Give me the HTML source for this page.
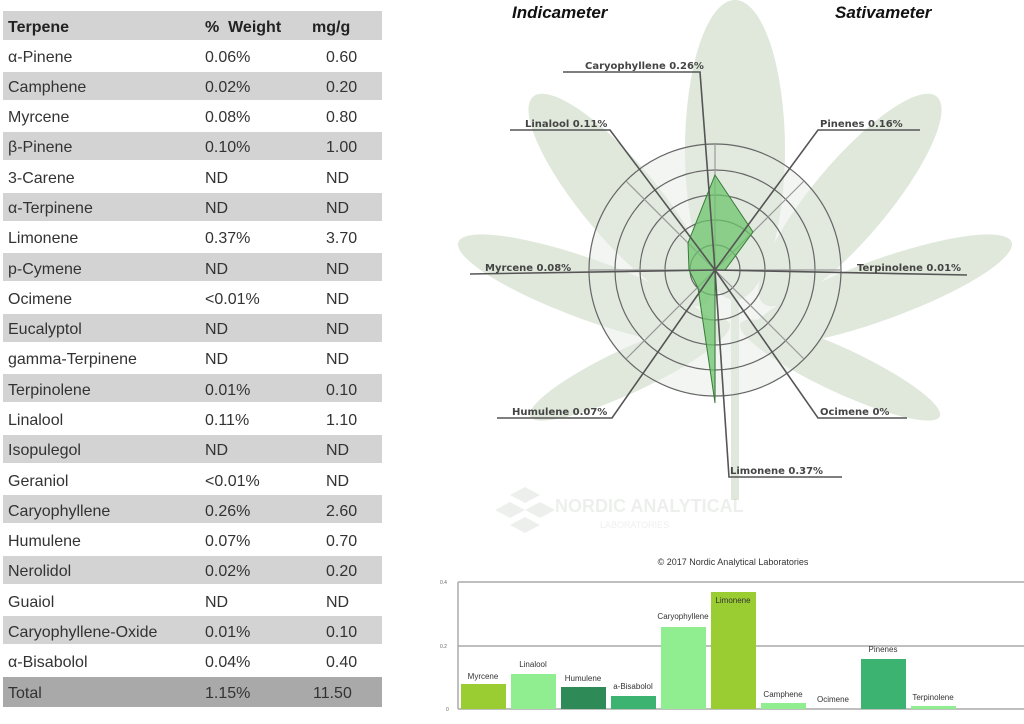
<!DOCTYPE html>
<html><head><meta charset="utf-8"><style>
html,body{margin:0;padding:0;background:#fff;}
svg{display:block;font-family:"Liberation Sans",sans-serif;}
</style></head><body>
<svg width="1024" height="724" viewBox="0 0 1024 724" xmlns="http://www.w3.org/2000/svg">
<!-- table -->
<g font-size="16" fill="#222">
<rect x="3" y="11" width="379" height="29" fill="#d3d3d3"/>
<text x="8" y="32" font-weight="bold">Terpene</text>
<text x="205" y="32" font-weight="bold" xml:space="preserve">%  Weight</text>
<text x="312" y="32" font-weight="bold">mg/g</text>
<g fill="#d3d3d3">
<rect x="3" y="72" width="379" height="28"/>
<rect x="3" y="132" width="379" height="28"/>
<rect x="3" y="193" width="379" height="28"/>
<rect x="3" y="253" width="379" height="28"/>
<rect x="3" y="314" width="379" height="28"/>
<rect x="3" y="374" width="379" height="28"/>
<rect x="3" y="435" width="379" height="28"/>
<rect x="3" y="495" width="379" height="28"/>
<rect x="3" y="556" width="379" height="28"/>
<rect x="3" y="616" width="379" height="28"/>
</g>
<rect x="3" y="677" width="379" height="30" fill="#a9a9a9"/>
<g fill="#333">
<text x="8" y="62">α-Pinene</text><text x="205" y="62">0.06%</text><text x="326" y="62">0.60</text>
<text x="8" y="92">Camphene</text><text x="205" y="92">0.02%</text><text x="326" y="92">0.20</text>
<text x="8" y="122">Myrcene</text><text x="205" y="122">0.08%</text><text x="326" y="122">0.80</text>
<text x="8" y="152">β-Pinene</text><text x="205" y="152">0.10%</text><text x="326" y="152">1.00</text>
<text x="8" y="183">3-Carene</text><text x="205" y="183">ND</text><text x="326" y="183">ND</text>
<text x="8" y="213">α-Terpinene</text><text x="205" y="213">ND</text><text x="326" y="213">ND</text>
<text x="8" y="243">Limonene</text><text x="205" y="243">0.37%</text><text x="326" y="243">3.70</text>
<text x="8" y="274">p-Cymene</text><text x="205" y="274">ND</text><text x="326" y="274">ND</text>
<text x="8" y="304">Ocimene</text><text x="205" y="304">&lt;0.01%</text><text x="326" y="304">ND</text>
<text x="8" y="334">Eucalyptol</text><text x="205" y="334">ND</text><text x="326" y="334">ND</text>
<text x="8" y="364">gamma-Terpinene</text><text x="205" y="364">ND</text><text x="326" y="364">ND</text>
<text x="8" y="395">Terpinolene</text><text x="205" y="395">0.01%</text><text x="326" y="395">0.10</text>
<text x="8" y="425">Linalool</text><text x="205" y="425">0.11%</text><text x="326" y="425">1.10</text>
<text x="8" y="455">Isopulegol</text><text x="205" y="455">ND</text><text x="326" y="455">ND</text>
<text x="8" y="486">Geraniol</text><text x="205" y="486">&lt;0.01%</text><text x="326" y="486">ND</text>
<text x="8" y="516">Caryophyllene</text><text x="205" y="516">0.26%</text><text x="326" y="516">2.60</text>
<text x="8" y="546">Humulene</text><text x="205" y="546">0.07%</text><text x="326" y="546">0.70</text>
<text x="8" y="576">Nerolidol</text><text x="205" y="576">0.02%</text><text x="326" y="576">0.20</text>
<text x="8" y="607">Guaiol</text><text x="205" y="607">ND</text><text x="326" y="607">ND</text>
<text x="8" y="637">Caryophyllene-Oxide</text><text x="205" y="637">0.01%</text><text x="326" y="637">0.10</text>
<text x="8" y="667">α-Bisabolol</text><text x="205" y="667">0.04%</text><text x="326" y="667">0.40</text>
<text x="8" y="698">Total</text><text x="205" y="698">1.15%</text><text x="313" y="698">11.50</text>
</g>
</g>

<!-- leaf background -->
<g fill="#dce6d8" opacity="0.9">
<ellipse cx="735" cy="150" rx="50" ry="150" />
<ellipse cx="620" cy="200" rx="38" ry="135" transform="rotate(-40 620 200)"/>
<ellipse cx="850" cy="200" rx="38" ry="135" transform="rotate(40 850 200)"/>
<ellipse cx="590" cy="290" rx="30" ry="140" transform="rotate(-70 590 290)"/>
<ellipse cx="880" cy="290" rx="30" ry="140" transform="rotate(70 880 290)"/>
<ellipse cx="630" cy="370" rx="22" ry="110" transform="rotate(-115 630 370)"/>
<ellipse cx="840" cy="370" rx="22" ry="110" transform="rotate(115 840 370)"/>
<rect x="731" y="300" width="8" height="200"/>
</g>
<circle cx="715" cy="270" r="126" fill="#e6ece4" opacity="0.5"/>

<!-- titles -->
<text x="512" y="18" font-size="17" font-weight="bold" font-style="italic" fill="#111">Indicameter</text>
<text x="835" y="18" font-size="17" font-weight="bold" font-style="italic" fill="#111">Sativameter</text>

<!-- radar grid -->
<g fill="none" stroke="#666" stroke-width="1.2">
<circle cx="715" cy="270" r="126"/>
<circle cx="715" cy="270" r="100"/>
<circle cx="715" cy="270" r="75"/>
<circle cx="715" cy="270" r="50"/>
<circle cx="715" cy="270" r="25"/>
<line x1="715" y1="144" x2="715" y2="396" stroke="#999"/>
<line x1="589" y1="270" x2="841" y2="270" stroke="#999"/>
<line x1="626" y1="181" x2="804" y2="359" stroke="#999"/>
<line x1="804" y1="181" x2="626" y2="359" stroke="#999"/>
</g>
<polygon points="715,175 753,232 725,270 715,270 715,403 698,288 689,270 688,243" fill="#6cc46c" fill-opacity="0.75" stroke="#3a7a3a" stroke-width="1"/>
<g stroke="#555" stroke-width="1.6" fill="none">
<polyline points="563,72 700,72 715,270"/>
<polyline points="510,130 610,130 715,270"/>
<polyline points="920,130 818,130 715,270"/>
<polyline points="470,274 715,270"/>
<polyline points="967,275 715,270"/>
<polyline points="497,418 612,418 715,270"/>
<polyline points="907,418 818,418 715,270"/>
<polyline points="842,477 729,477 715,270"/>
</g>
<g font-family="'DejaVu Sans',sans-serif" font-size="10" font-weight="bold" fill="#444">
<text x="585" y="69">Caryophyllene 0.26%</text>
<text x="525" y="127">Linalool 0.11%</text>
<text x="820" y="127">Pinenes 0.16%</text>
<text x="485" y="271">Myrcene 0.08%</text>
<text x="857" y="271">Terpinolene 0.01%</text>
<text x="512" y="415">Humulene 0.07%</text>
<text x="820" y="415">Ocimene 0%</text>
<text x="730" y="474">Limonene 0.37%</text>
</g>
<!-- watermark -->
<g opacity="0.2" fill="#a8b4a8">
<polygon points="510,495 525,487 540,495 525,503"/>
<polygon points="495,510 510,502 525,510 510,518"/>
<polygon points="525,510 540,502 555,510 540,518"/>
<polygon points="510,525 525,517 540,525 525,533"/>
<text x="555" y="512" font-size="18" font-weight="bold">NORDIC ANALYTICAL</text>
<text x="600" y="528" font-size="9">LABORATORIES</text>
</g>

<!-- bar chart -->
<text x="733" y="565" font-size="9" fill="#333" text-anchor="middle">© 2017 Nordic Analytical Laboratories</text>
<g stroke="#aaa" stroke-width="1.5">
<line x1="458" y1="582" x2="1024" y2="582"/>
<line x1="458" y1="646" x2="1024" y2="646"/>
<line x1="458" y1="709" x2="1024" y2="709"/>
<line x1="458" y1="582" x2="458" y2="709"/>
</g>
<g font-size="5" fill="#666">
<text x="440" y="584">0.4</text><text x="440" y="648">0.2</text><text x="446" y="711">0</text>
</g>
<g>
<rect x="461" y="684" width="45" height="25" fill="#9acd32"/>
<rect x="511" y="674" width="45" height="35" fill="#90ee90"/>
<rect x="561" y="687" width="45" height="22" fill="#2e8b57"/>
<rect x="611" y="696" width="45" height="13" fill="#3cb371"/>
<rect x="661" y="627" width="45" height="82" fill="#90ee90"/>
<rect x="711" y="592" width="45" height="117" fill="#9acd32"/>
<rect x="761" y="703" width="45" height="6" fill="#90ee90"/>
<rect x="861" y="659" width="45" height="50" fill="#3cb371"/>
<rect x="911" y="706" width="45" height="3" fill="#90ee90"/>
</g>
<g font-size="8" fill="#333" text-anchor="middle">
<text x="483" y="679">Myrcene</text>
<text x="533" y="667">Linalool</text>
<text x="583" y="681">Humulene</text>
<text x="633" y="689">a-Bisabolol</text>
<text x="683" y="619">Caryophyllene</text>
<text x="733" y="603">Limonene</text>
<text x="783" y="697">Camphene</text>
<text x="833" y="702">Ocimene</text>
<text x="883" y="652">Pinenes</text>
<text x="933" y="700">Terpinolene</text>
</g>
</svg>
</body></html>
